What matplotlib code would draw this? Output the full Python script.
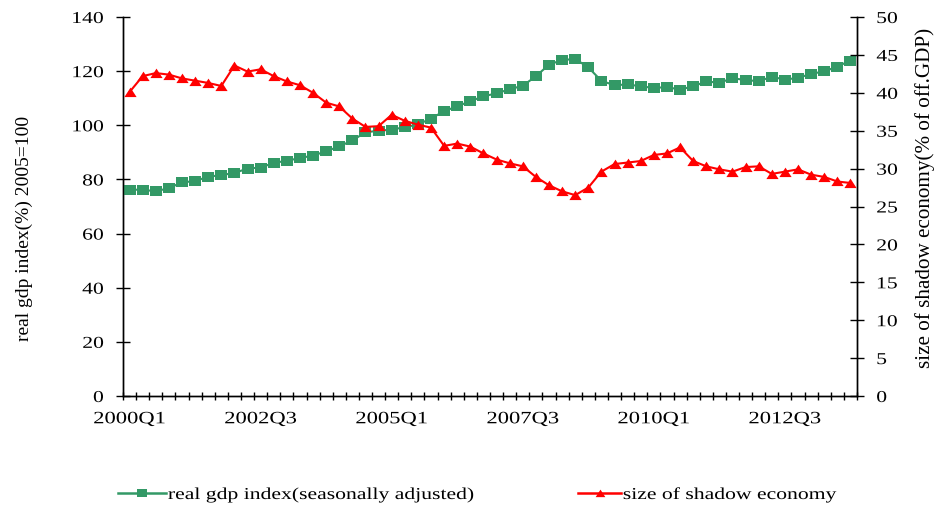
import numpy as np
import matplotlib
matplotlib.use("Agg")
import matplotlib.pyplot as plt
from matplotlib.patheffects import AbstractPathEffect
from matplotlib.transforms import Affine2D
from matplotlib.lines import Line2D

# ---------------- data ----------------
quarters = [f"{y}Q{q}" for y in range(2000, 2014) for q in range(1, 5)]

gdp_index = [76.2, 76.2, 75.6, 76.8, 78.9, 79.4, 81.0, 81.6, 82.4, 84.0,
             84.4, 86.1, 86.9, 87.9, 88.8, 90.4, 92.2, 94.4, 97.4, 98.0,
             98.4, 99.3, 100.3, 102.5, 105.2, 107.0, 108.9, 110.7, 111.8, 113.3,
             114.6, 118.1, 122.4, 124.1, 124.5, 121.4, 116.4, 114.8, 115.1, 114.4,
             113.8, 114.1, 113.2, 114.4, 116.2, 115.7, 117.4, 116.7, 116.3, 117.9,
             116.9, 117.5, 119.0, 119.9, 121.7, 123.9]

shadow_size = [40.1, 42.2, 42.6, 42.4, 41.9, 41.6, 41.3, 40.9, 43.6, 42.8,
               43.1, 42.2, 41.5, 41.0, 40.0, 38.7, 38.2, 36.6, 35.5, 35.6,
               37.1, 36.3, 35.8, 35.4, 33.0, 33.3, 32.9, 32.0, 31.2, 30.7,
               30.3, 28.9, 27.8, 27.0, 26.5, 27.5, 29.6, 30.6, 30.8, 31.0,
               31.8, 32.0, 32.8, 31.0, 30.3, 29.9, 29.6, 30.2, 30.3, 29.3,
               29.6, 29.9, 29.2, 28.9, 28.3, 28.1]

label_every = 10
left_ticks = [0, 20, 40, 60, 80, 100, 120, 140]
right_ticks = [0, 5, 10, 15, 20, 25, 30, 35, 40, 45, 50]

series1_name = "real gdp index(seasonally adjusted)"
series2_name = "size of shadow economy"
ylabel_left = "real gdp index(%) 2005=100"
ylabel_right = "size of shadow economy(% of off.GDP)"

# ---------------- style helpers ----------------
class HStretch(AbstractPathEffect):
    """Stretch text glyphs horizontally around an anchor."""
    def __init__(self, sx, anchor="center"):
        super().__init__()
        self.sx = sx
        self.anchor = anchor

    def draw_path(self, renderer, gc, tpath, affine, rgbFace=None):
        ext = tpath.get_extents()
        if self.anchor == "left":
            cx = ext.x0
        elif self.anchor == "right":
            cx = ext.x1
        else:
            cx = 0.5 * (ext.x0 + ext.x1)
        t = Affine2D().translate(-cx, 0).scale(self.sx, 1).translate(cx, 0) + affine
        renderer.draw_path(gc, tpath, t, rgbFace)

SX = 1.3
GREEN = "#339966"
RED = "#FF0000"
plt.rcParams["font.family"] = ["Liberation Serif", "DejaVu Serif"]

sq_marker = [(-1.2, -1), (1.2, -1), (1.2, 1), (-1.2, 1), (-1.2, -1)]
tri_marker = [(-1, -0.75), (1, -0.75), (0, 0.8), (-1, -0.75)]

W, H = 935, 511
fig = plt.figure(figsize=(W / 100, H / 100), dpi=100)
ax = fig.add_axes([123 / W, 1 - 396 / H, (857 - 123) / W, (396 - 17) / H])
ax2 = ax.twinx()

x = np.arange(len(quarters))
l1, = ax.plot(x, gdp_index, color=GREEN, lw=1.5, marker=sq_marker, ms=9.3,
              mfc=GREEN, mec=GREEN, mew=0, zorder=3)
l2, = ax2.plot(x, shadow_size, color=RED, lw=1.5, marker=tri_marker, ms=8.8,
               mfc=RED, mec=RED, mew=0, zorder=3)

ax.set_xlim(-0.5, len(quarters) - 0.5)
ax.set_ylim(0, 140)
ax2.set_ylim(0, 50)
ax.set_yticks(left_ticks)
ax2.set_yticks(right_ticks)

ax.set_xticks(np.arange(-0.5, len(quarters), 1))
ax.set_xticklabels([])
ax.set_xticks(x[::label_every], minor=True)
ax.set_xticklabels([quarters[i] for i in x[::label_every]], minor=True)

for a in (ax, ax2):
    a.spines["top"].set_visible(False)
    for s in a.spines.values():
        s.set_linewidth(1.0)
        s.set_color("black")

ax.tick_params(axis="y", direction="inout", length=10, width=1.0, pad=9,
               labelsize=12, colors="black")
ax2.tick_params(axis="y", direction="inout", length=10, width=1.0, pad=9,
                labelsize=12, colors="black")
ax.tick_params(axis="x", which="major", direction="inout", length=6, width=1.0)
ax.tick_params(axis="x", which="minor", length=0, pad=11, labelsize=12.5)

fig.text(24 / W, 1 - 228 / H, ylabel_left, rotation=90, ha="center",
         va="center", fontsize=14)
fig.text(925 / W, 1 - 198 / H, ylabel_right, rotation=90, ha="center",
         va="center", fontsize=15.2)

h1 = Line2D([], [], color=GREEN, lw=1.8, marker=sq_marker, ms=7, mfc=GREEN, mew=0)
h2 = Line2D([], [], color=RED, lw=1.8, marker=tri_marker, ms=7, mfc=RED, mew=0)
leg1 = fig.legend(handles=[h1], labels=[series1_name], loc="center left",
                  bbox_to_anchor=(118 / W, 1 - 495 / H), frameon=False,
                  fontsize=12, handlelength=2.9, handletextpad=0.1,
                  borderpad=0, borderaxespad=0)
leg2 = fig.legend(handles=[h2], labels=[series2_name], loc="center left",
                  bbox_to_anchor=(578 / W, 1 - 495 / H), frameon=False,
                  fontsize=12, handlelength=2.6, handletextpad=0.1,
                  borderpad=0, borderaxespad=0)

fig.canvas.draw()
for lbl in ax.get_yticklabels():
    lbl.set_path_effects([HStretch(SX, "right")])
for lbl in ax2.get_yticklabels():
    lbl.set_path_effects([HStretch(SX, "left")])
for lbl in ax.get_xticklabels(minor=True):
    lbl.set_path_effects([HStretch(SX, "center")])
for leg in (leg1, leg2):
    for t in leg.get_texts():
        t.set_path_effects([HStretch(SX, "left")])

fig.savefig("out.png", dpi=100)
